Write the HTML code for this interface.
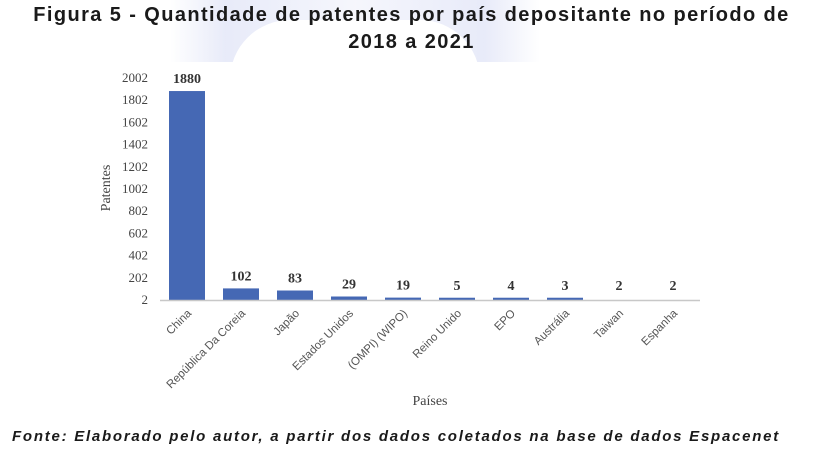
<!DOCTYPE html>
<html><head><meta charset="utf-8">
<style>
body{margin:0;width:823px;height:461px;background:#fff;overflow:hidden;position:relative;font-family:"Liberation Sans",sans-serif}
.t{position:absolute;left:0;width:823px;text-align:center;font-weight:bold;font-size:20px;letter-spacing:1.4px;color:#1a1a1a}
.wm{position:absolute;left:170px;top:0;width:370px;height:62px;background:linear-gradient(90deg,rgba(220,224,245,0),rgba(222,226,246,0.7) 15%,rgba(236,238,250,0.5) 50%,rgba(222,226,246,0.7) 85%,rgba(220,224,245,0))}
.wm2{position:absolute;left:230px;top:20px;width:250px;height:60px;border-radius:130px 130px 0 0;background:#fff}
</style></head><body>
<div class="wm"></div>
<div class="wm2"></div>
<div class="t" style="top:4px">Figura 5 - Quantidade de patentes por país depositante no período de</div>
<div class="t" style="top:31px">2018 a 2021</div>
<svg id="c" width="823" height="461" style="position:absolute;left:0;top:0"></svg>
<div style="position:absolute;left:12px;top:428px;font-weight:bold;font-style:italic;font-size:15px;letter-spacing:1.75px;color:#1a1a1a;white-space:nowrap">Fonte: Elaborado pelo autor, a partir dos dados coletados na base de dados Espacenet</div>
<script>
const categories=["China","República Da Coreia","Japão","Estados Unidos","(OMPI) (WIPO)","Reino Unido","EPO","Austrália","Taiwan","Espanha"];
const values=[1880,102,83,29,19,5,4,3,2,2];
const ticks=[2,202,402,602,802,1002,1202,1402,1602,1802,2002];
const svg=document.getElementById('c');const NS='http://www.w3.org/2000/svg';
function y(v){return 299.5-(v-2)*(222/2000);}
function x(i){return 187+i*54;}
function mk(t,a,txt){const e=document.createElementNS(NS,t);for(const k in a)e.setAttribute(k,a[k]);if(txt!=null)e.textContent=txt;svg.appendChild(e);return e;}
ticks.forEach(t=>{
 const e=mk('text',{x:148,y:y(t)+4.5,'text-anchor':'end','font-family':'Liberation Serif,serif','font-size':'13',fill:'#444'},t);
 
 
});
values.forEach((v,i)=>{
 let top=y(v), h=Math.max(2.5,y(0)+0.5-top);
 top=y(0)+0.5-h;
 if(v>2){const r=mk('rect',{x:x(i)-18,y:top,width:36,height:h,fill:'#4568b4'});
 
 }
 const l=mk('text',{x:x(i),y:Math.min(y(v)-8,290),'text-anchor':'middle','font-family':'Liberation Serif,serif','font-weight':'bold','font-size':'14',fill:'#333'},v);
 
 
 const c=mk('text',{transform:`translate(${x(i)+5},314) rotate(-45)`,'text-anchor':'end','font-size':'11.5',fill:'#555'},categories[i]);
 
 
});
const ax=mk('line',{x1:160,x2:700,y1:300.5,y2:300.5,stroke:'#c8c8c8','stroke-width':1.5});


const yt=mk('text',{transform:'translate(110,188) rotate(-90)','text-anchor':'middle','font-family':'Liberation Serif,serif','font-size':'14',fill:'#444'},'Patentes');


const xt=mk('text',{x:430,y:405,'text-anchor':'middle','font-family':'Liberation Serif,serif','font-size':'14',fill:'#444'},'Países');


</script>
</body></html>
